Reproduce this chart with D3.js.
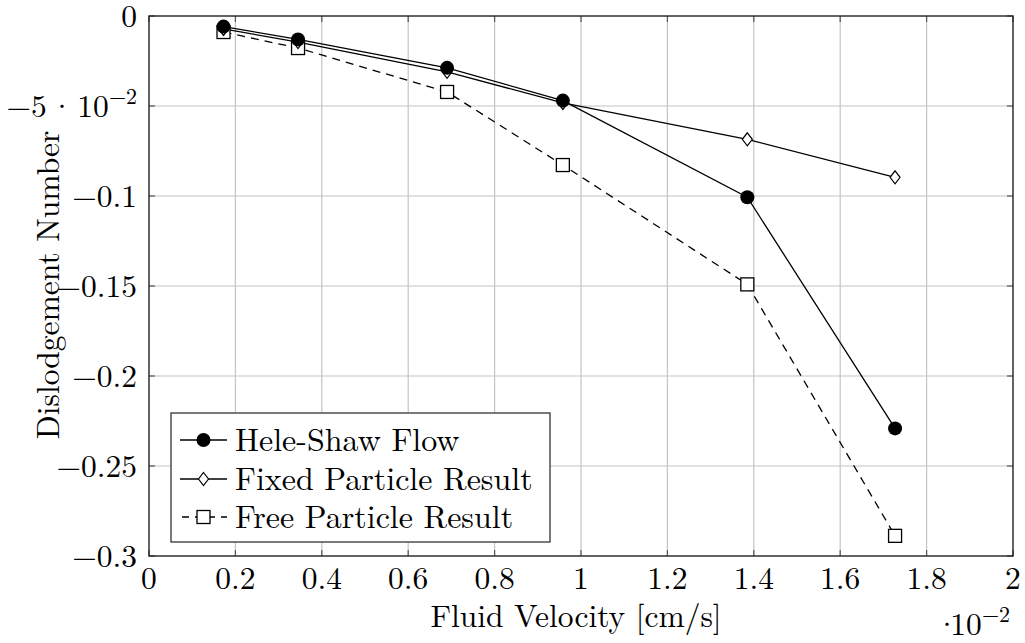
<!DOCTYPE html>
<html><head><meta charset="utf-8">
<script src="https://cdn.jsdelivr.net/npm/d3@7"></script>
<style>body{margin:0;background:#fff}svg{display:block}</style>
</head><body><svg id="c" width="1025" height="643"></svg>
<script>
const velocity = [0.1725, 0.345, 0.69, 0.958, 1.385, 1.727];
const heleShaw = [-0.0059, -0.0130, -0.0288, -0.0470, -0.1007, -0.2291];
const fixedParticle = [-0.0072, -0.0145, -0.0310, -0.0483, -0.0685, -0.0896];
const freeParticle = [-0.0089, -0.0178, -0.0422, -0.0828, -0.1491, -0.2888];
const xTicks = [0, 0.2, 0.4, 0.6, 0.8, 1, 1.2, 1.4, 1.6, 1.8, 2];
const xTickLabels = ["0","0.2","0.4","0.6","0.8","1","1.2","1.4","1.6","1.8","2"];
const yTicks = [0, -0.05, -0.1, -0.15, -0.2, -0.25, -0.3];
const yTickLabels = ["0","−5|·|10|−2","−0.1","−0.15","−0.2","−0.25","−0.3"];
const seriesNames = ["Hele-Shaw Flow","Fixed Particle Result","Free Particle Result"];

const svg = d3.select("#c");
const FF = "'Latin Modern Roman', 'Liberation Serif', serif";
const L=149, R=1013, T=16, B=556;
const x = d3.scaleLinear().domain([0,2]).range([L,R]);
const y = d3.scaleLinear().domain([-0.3,0]).range([B,T]);
const FS = "31.5px", SS = "22px";
const txt = (sel) => sel.append("text").style("font-family",FF).style("font-size",FS).style("fill","#000");

const g = svg.append("g");
g.selectAll(".gx").data(xTicks.slice(1,-1)).join("line")
  .attr("x1",d=>x(d)).attr("x2",d=>x(d)).attr("y1",T).attr("y2",B)
  .attr("stroke","#c4c4c4").attr("stroke-width",1.2);
g.selectAll(".gy").data(yTicks.slice(1,-1)).join("line")
  .attr("y1",d=>y(d)).attr("y2",d=>y(d)).attr("x1",L).attr("x2",R)
  .attr("stroke","#c4c4c4").attr("stroke-width",1.2);
const tk = 6;
xTicks.forEach(d=>{
  g.append("line").attr("x1",x(d)).attr("x2",x(d)).attr("y1",B).attr("y2",B-tk).attr("stroke","#555").attr("stroke-width",1.2);
  g.append("line").attr("x1",x(d)).attr("x2",x(d)).attr("y1",T).attr("y2",T+tk).attr("stroke","#555").attr("stroke-width",1.2);
});
yTicks.forEach(d=>{
  g.append("line").attr("y1",y(d)).attr("y2",y(d)).attr("x1",L).attr("x2",L+tk).attr("stroke","#555").attr("stroke-width",1.2);
  g.append("line").attr("y1",y(d)).attr("y2",y(d)).attr("x1",R).attr("x2",R-tk).attr("stroke","#555").attr("stroke-width",1.2);
});
svg.append("rect").attr("x",L).attr("y",T).attr("width",R-L).attr("height",B-T)
  .attr("fill","none").attr("stroke","#222").attr("stroke-width",1.4);

xTicks.forEach((d,i)=>{
  txt(svg).attr("x",x(d)).attr("y",589).attr("text-anchor","middle").text(xTickLabels[i]);
});
yTicks.forEach((d,i)=>{
  const parts = yTickLabels[i].split("|");
  const t = txt(svg).attr("x",137).attr("y",y(d)+11).attr("text-anchor","end");
  if(parts.length===1){ t.text(parts[0]); return; }
  t.append("tspan").text(parts[0]);
  t.append("tspan").attr("dx",3).text(parts[1]);
  t.append("tspan").attr("dx",3).text(parts[2]);
  t.append("tspan").attr("dy",-13).style("font-size",SS).text(parts[3]);
});
const mt = txt(svg).attr("x",1010).attr("y",635).attr("text-anchor","end");
mt.append("tspan").text("·");
mt.append("tspan").attr("dx",-9).text("10");
mt.append("tspan").attr("dy",-13).style("font-size",SS).text("−2");

txt(svg).attr("x",576).attr("y",627).attr("text-anchor","middle").text("Fluid Velocity [cm/s]");
txt(svg).attr("transform","translate(59,285) rotate(-90)").attr("text-anchor","middle").text("Dislodgement Number");

const line = d3.line().x(d=>x(d[0])).y(d=>y(d[1]));
const zip = v => velocity.map((vx,i)=>[vx,v[i]]);
svg.append("path").attr("d",line(zip(freeParticle))).attr("fill","none").attr("stroke","#000").attr("stroke-width",1.3).attr("stroke-dasharray","8,6");
svg.append("path").attr("d",line(zip(fixedParticle))).attr("fill","none").attr("stroke","#000").attr("stroke-width",1.3);
svg.append("path").attr("d",line(zip(heleShaw))).attr("fill","none").attr("stroke","#000").attr("stroke-width",1.3);

function square(sel,cx,cy){ sel.append("rect").attr("x",cx-6.5).attr("y",cy-6.5).attr("width",13).attr("height",13).attr("fill","#fff").attr("stroke","#000").attr("stroke-width",1.3); }
function diamond(sel,cx,cy){ sel.append("path").attr("d",`M${cx},${cy-6.5}L${cx+5},${cy}L${cx},${cy+6.5}L${cx-5},${cy}Z`).attr("fill","#fff").attr("stroke","#000").attr("stroke-width",1.2); }
function circle(sel,cx,cy){ sel.append("circle").attr("cx",cx).attr("cy",cy).attr("r",7).attr("fill","#000"); }

zip(freeParticle).forEach(p=>square(svg,x(p[0]),y(p[1])));
zip(fixedParticle).forEach(p=>diamond(svg,x(p[0]),y(p[1])));
zip(heleShaw).forEach(p=>circle(svg,x(p[0]),y(p[1])));

const lg = svg.append("g");
lg.append("rect").attr("x",171).attr("y",413).attr("width",379).attr("height",129).attr("fill","#fff").attr("stroke","#333").attr("stroke-width",1.3);
const rows = [440,479,517];
rows.forEach((ry,i)=>{
  const ln = lg.append("line").attr("x1",180).attr("x2",227).attr("y1",ry).attr("y2",ry).attr("stroke","#000").attr("stroke-width",1.3);
  if(i===2) ln.attr("stroke-dasharray","7,6").attr("stroke-dashoffset",-2);
  if(i===0) circle(lg,203.5,ry);
  if(i===1) diamond(lg,203.5,ry);
  if(i===2) square(lg,203.5,ry);
  txt(lg).attr("x",235).attr("y",ry+11).style("font-size","32px").text(seriesNames[i]);
});
</script></body></html>
